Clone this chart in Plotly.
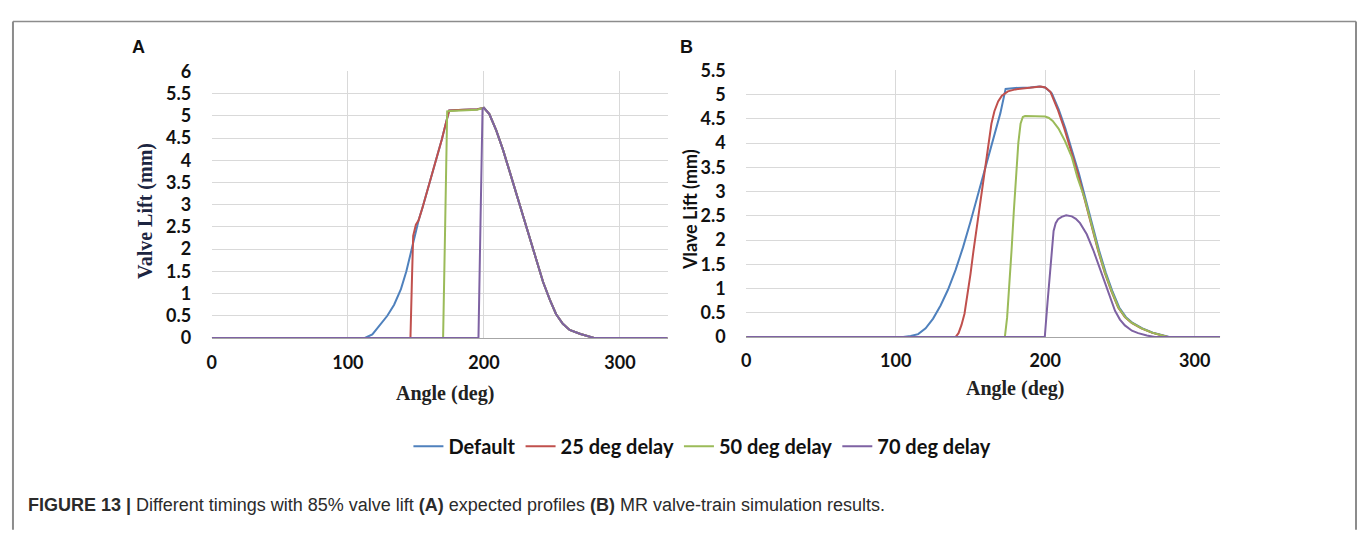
import plotly.graph_objects as go

W, H = 1358, 534

# ---------------- Panel A: expected profiles ----------------
A_default_x = [0, 112.5, 118, 124, 129, 134, 139, 143, 146.5, 149.5, 152, 155, 159, 164, 169, 172.5, 174.5, 185, 195, 200,
               204, 209, 214, 219, 224, 229, 234, 239, 243.5, 248.5, 253, 258, 263, 271, 281, 335]
A_default_y = [0, 0, 0.08, 0.3, 0.5, 0.75, 1.1, 1.5, 1.94, 2.35, 2.65, 2.95, 3.38, 3.96, 4.46, 4.89, 5.12, 5.14, 5.15, 5.18,
               5.04, 4.68, 4.24, 3.74, 3.24, 2.73, 2.23, 1.73, 1.26, 0.86, 0.54, 0.32, 0.18, 0.09, 0, 0]

A_d25_x = [0, 146, 147, 148, 150, 152, 155, 159, 164, 169, 172.5, 174.5, 185, 195, 200,
           204, 209, 214, 219, 224, 229, 234, 239, 243.5, 248.5, 253, 258, 263, 271, 281, 335]
A_d25_y = [0, 0, 1.2, 2.3, 2.55, 2.65, 2.95, 3.38, 3.96, 4.46, 4.89, 5.12, 5.14, 5.15, 5.18,
           5.04, 4.68, 4.24, 3.74, 3.24, 2.73, 2.23, 1.73, 1.26, 0.86, 0.54, 0.32, 0.18, 0.09, 0, 0]

A_d50_x = [0, 170, 171.5, 173, 175, 185, 195, 200,
           204, 209, 214, 219, 224, 229, 234, 239, 243.5, 248.5, 253, 258, 263, 271, 281, 335]
A_d50_y = [0, 0, 2.5, 5.1, 5.11, 5.12, 5.14, 5.18,
           5.04, 4.68, 4.24, 3.74, 3.24, 2.73, 2.23, 1.73, 1.26, 0.86, 0.54, 0.32, 0.18, 0.09, 0, 0]

A_d70_x = [0, 196, 197.5, 199, 200,
           204, 209, 214, 219, 224, 229, 234, 239, 243.5, 248.5, 253, 258, 263, 271, 281, 335]
A_d70_y = [0, 0, 2.6, 5.16, 5.18,
           5.04, 4.68, 4.24, 3.74, 3.24, 2.73, 2.23, 1.73, 1.26, 0.86, 0.54, 0.32, 0.18, 0.09, 0, 0]

# ---------------- Panel B: MR valve-train simulation ----------------
B_default_x = [0, 105, 110, 115, 120, 125, 130, 135, 140, 145, 150, 155, 160, 165, 170, 173.5, 180, 190, 196, 200,
               204.4, 209, 213.5, 218, 222.5, 227, 231.5, 236, 240.5, 245, 249.5, 254, 258.5, 265, 272, 278.5, 283, 317]
B_default_y = [0, 0, 0.02, 0.06, 0.18, 0.38, 0.65, 0.98, 1.38, 1.85, 2.38, 2.95, 3.52, 4.08, 4.62, 5.12, 5.14, 5.15, 5.17, 5.15,
               5.03, 4.70, 4.30, 3.84, 3.38, 2.85, 2.32, 1.79, 1.33, 0.94, 0.61, 0.41, 0.29, 0.18, 0.09, 0.03, 0, 0]

B_d25_x = [0, 140, 142, 144, 146, 148, 150, 152, 154, 156, 158, 160, 162, 164, 166, 168.5, 171, 175, 180, 186, 192, 197, 200,
           203.5, 208.3, 212.8, 217.3, 221.8, 226.3, 230.8, 235.3, 239.8, 244.3, 248.8, 253.3, 257.8, 264.3, 271.3, 277.8, 282, 317]
B_d25_y = [0, 0, 0.08, 0.25, 0.48, 0.85, 1.3, 1.78, 2.22, 2.62, 3.05, 3.55, 4.0, 4.4, 4.66, 4.86, 4.98, 5.07, 5.11, 5.13, 5.14, 5.17, 5.15,
           5.06, 4.70, 4.30, 3.84, 3.38, 2.85, 2.32, 1.79, 1.33, 0.94, 0.61, 0.41, 0.29, 0.18, 0.09, 0.03, 0, 0]

B_d50_x = [0, 173, 174.5, 176, 177.5, 179, 180.5, 182, 183.5, 185, 186.5, 190, 195, 200, 202.5, 205, 208.9, 213.3, 217.8, 221.5,
           226.5, 231, 235.5, 240, 244.5, 249, 253.5, 258, 264.5, 271.5, 278, 282, 317]
B_d50_y = [0, 0, 0.4, 1.0, 1.8, 2.6, 3.35, 4.0, 4.4, 4.54, 4.56, 4.56, 4.56, 4.55, 4.52, 4.46, 4.30, 4.04, 3.71, 3.30,
           2.85, 2.32, 1.79, 1.33, 0.94, 0.61, 0.41, 0.29, 0.18, 0.09, 0.03, 0, 0]

B_d70_x = [0, 199.7, 201.5, 203.3, 204.5, 205.6, 207, 208.6, 211, 214, 217.8, 220.5, 223.3, 227.8, 232.2, 236.7, 241.1,
           246.7, 250, 253.3, 258, 262.2, 268, 273.3, 317]
B_d70_y = [0, 0, 0.7, 1.40, 1.85, 2.19, 2.35, 2.43, 2.48, 2.51, 2.49, 2.44, 2.35, 2.12, 1.79, 1.40, 1.00,
           0.54, 0.36, 0.24, 0.13, 0.08, 0.03, 0, 0]

series_names = ["Default", "25 deg delay", "50 deg delay", "70 deg delay"]
series_colors = ["#4F81BD", "#C0504D", "#9BBB59", "#7E62A3"]

A_x = [A_default_x, A_d25_x, A_d50_x, A_d70_x]
A_y = [A_default_y, A_d25_y, A_d50_y, A_d70_y]
B_x = [B_default_x, B_d25_x, B_d50_x, B_d70_x]
B_y = [B_default_y, B_d25_y, B_d50_y, B_d70_y]

fig = go.Figure()
for i in range(4):
    fig.add_trace(go.Scatter(x=A_x[i], y=A_y[i], mode="lines", name=series_names[i],
                             line=dict(color=series_colors[i], width=2),
                             xaxis="x", yaxis="y", legendgroup=series_names[i], showlegend=True))
for i in range(4):
    fig.add_trace(go.Scatter(x=B_x[i], y=B_y[i], mode="lines", name=series_names[i],
                             line=dict(color=series_colors[i], width=2),
                             xaxis="x2", yaxis="y2", legendgroup=series_names[i], showlegend=False))

def px(x):
    return x / W

def py(y):
    return 1 - y / H

tick_font = dict(family="Lato", size=18, color="#111111", weight="bold")
grid = "#D9D9D9"

fig.update_layout(
    width=W, height=H,
    margin=dict(l=0, r=0, t=0, b=0),
    paper_bgcolor="white", plot_bgcolor="white",
    showlegend=True,
    legend=dict(orientation="h", x=px(700), y=py(453), xanchor="center", yanchor="middle",
                font=dict(family="Lato", size=20, color="#111111", weight="bold"),
                bgcolor="rgba(0,0,0,0)", itemwidth=30, tracegroupgap=0),
    xaxis=dict(domain=[px(207.6), px(665)], range=[0, 335], dtick=100, tick0=0,
               showgrid=True, gridcolor=grid, gridwidth=1, zeroline=False,
               showline=True, linecolor="#A6A6A6", linewidth=1,
               ticks="outside", ticklen=8, tickcolor="rgba(0,0,0,0)",
               tickfont=tick_font, anchor="y"),
    yaxis=dict(domain=[py(340), py(62)], range=[0, 6], dtick=0.5, tick0=0,
               showgrid=True, gridcolor=grid, gridwidth=1, zeroline=False, showline=False,
               ticks="outside", ticklen=16, tickcolor="rgba(0,0,0,0)",
               tickfont=tick_font, anchor="x"),
    xaxis2=dict(domain=[px(744), px(1219.6)], range=[0, 317], dtick=100, tick0=0,
                showgrid=True, gridcolor=grid, gridwidth=1, zeroline=False,
                showline=True, linecolor="#A6A6A6", linewidth=1,
                ticks="outside", ticklen=7, tickcolor="rgba(0,0,0,0)",
                tickfont=tick_font, anchor="y2"),
    yaxis2=dict(domain=[py(339), py(61)], range=[0, 5.5], dtick=0.5, tick0=0,
                showgrid=True, gridcolor=grid, gridwidth=1, zeroline=False, showline=False,
                ticks="outside", ticklen=16, tickcolor="rgba(0,0,0,0)",
                tickfont=tick_font, anchor="x2"),
)

annotations = [
    dict(text="A", x=px(134), y=py(36), font=dict(family="Liberation Sans", size=18, color="#111111", weight="bold")),
    dict(text="B", x=px(684), y=py(36), font=dict(family="Liberation Sans", size=18, color="#111111", weight="bold")),
    dict(text="Valve Lift (mm)", x=px(141), y=py(207), textangle=-90,
         font=dict(family="Liberation Serif", size=20, color="#1C2541", weight="bold")),
    dict(text="Vlave Lift (mm)", x=px(687), y=py(206), textangle=-90,
         font=dict(family="Lato", size=18, color="#111111", weight="bold")),
    dict(text="Angle (deg)", x=px(442), y=py(398),
         font=dict(family="Liberation Serif", size=20, color="#222222", weight="bold")),
    dict(text="Angle (deg)", x=px(1014), y=py(393),
         font=dict(family="Liberation Serif", size=20, color="#222222", weight="bold")),
    dict(text="<b>FIGURE 13 |</b> Different timings with 85% valve lift <b>(A)</b> expected profiles "
              "<b>(B)</b> MR valve-train simulation results.",
         x=px(21), y=py(514), xanchor="left",
         font=dict(family="Liberation Sans", size=18, color="#2B2B2B")),
]
for a in annotations:
    a.setdefault("xanchor", "center")
    a.update(xref="paper", yref="paper", yanchor="middle", showarrow=False)
fig.update_layout(annotations=annotations)

border = "#8C8C8C"
fig.update_layout(shapes=[
    dict(type="line", xref="paper", yref="paper", x0=px(8), x1=px(1356), y0=py(10), y1=py(10),
         line=dict(color=border, width=1.5)),
    dict(type="line", xref="paper", yref="paper", x0=px(8), x1=px(8), y0=py(10), y1=py(540),
         line=dict(color=border, width=2)),
    dict(type="line", xref="paper", yref="paper", x0=px(1356), x1=px(1356), y0=py(10), y1=py(540),
         line=dict(color=border, width=2)),
])

fig.write_html("out.html")
